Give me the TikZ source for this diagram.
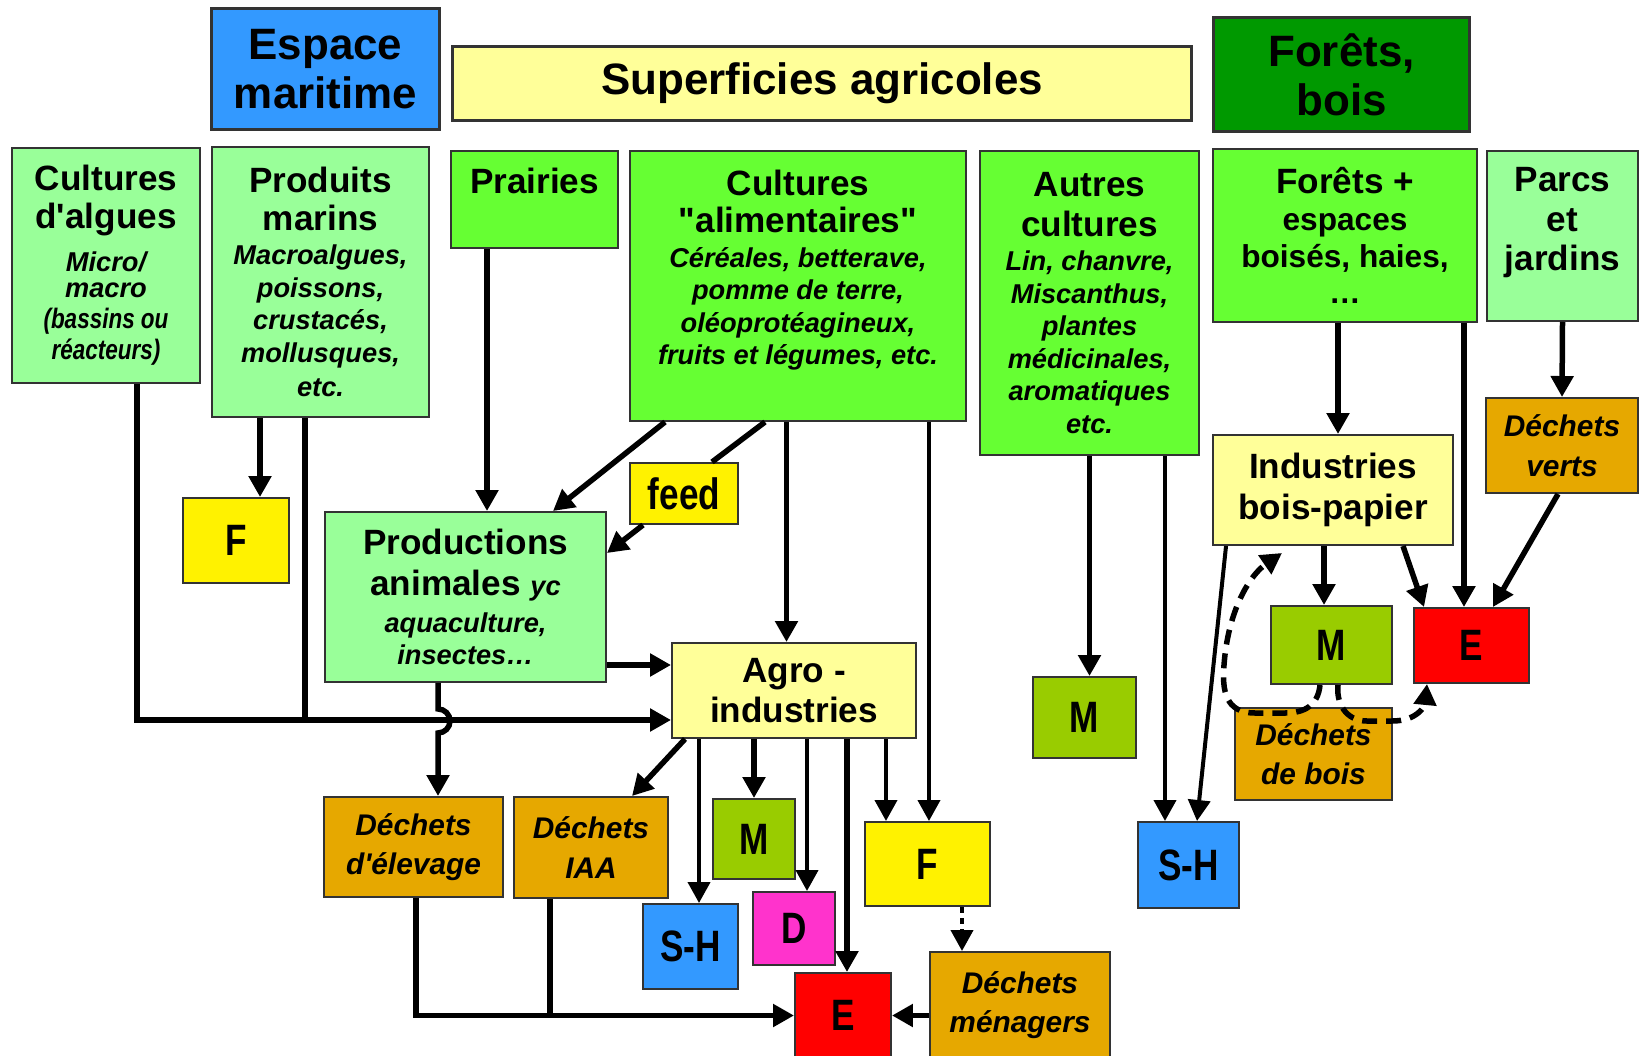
\documentclass[tikz,border=0pt]{standalone}
\usepackage{fontspec}
\setmainfont{Liberation Sans}[Ligatures=TeXOff]
\newfontfamily\narrowsans{Liberation Sans}[FakeStretch=0.8]
\usetikzlibrary{arrows.meta}

\definecolor{seablue}{RGB}{51,153,255}
\definecolor{paleyellow}{RGB}{255,255,153}
\definecolor{forestgreen}{RGB}{0,153,0}
\definecolor{palegreen}{RGB}{153,255,153}
\definecolor{grassgreen}{RGB}{102,255,51}
\definecolor{wastegold}{RGB}{230,168,0}
\definecolor{mgreen}{RGB}{153,204,0}
\definecolor{dpink}{RGB}{255,51,204}

\newcommand\subtxt[1]{{\itshape\fontsize{15.5}{18}\selectfont #1}}
\newcommand\midtxt[1]{{\fontsize{18}{21}\selectfont #1}}
\newcommand\narrowit[1]{{\narrowsans\bfseries\itshape\fontsize{16}{18}\selectfont #1}}

\tikzset{
  box/.style={draw=black!80, line width=0.04cm, inner sep=0pt, align=center},
  ttl/.style={box, line width=0.06cm, font=\bfseries\fontsize{25}{28}\selectfont},
  hd/.style={box, font=\bfseries\fontsize{20}{21.5}\selectfont},
  wst/.style={box, fill=wastegold, font=\bfseries\itshape\fontsize{17}{22.5}\selectfont},
  ltr/.style={box, font=\narrowsans\bfseries\fontsize{25}{27}\selectfont},
  ln/.style={line width=0.11cm},
  arr/.style={line width=0.11cm, -{Triangle[length=0.42cm,width=0.44cm]}},
  thinarr/.style={arr, line width=0.08cm},
  dotarr/.style={arr, line width=0.08cm, dash pattern=on 0.12cm off 0.1cm},
  dsharr/.style={arr, dash pattern=on 0.3cm off 0.18cm}
}

\begin{document}
\begin{tikzpicture}[x=0.02cm,y=-0.02cm]
\useasboundingbox (0,0) rectangle (1642,1055);

% espaces
\node[ttl, fill=seablue, minimum width=4.58cm, minimum height=2.44cm] (mar) at (325.5,69) {Espace\\maritime};
\node[ttl, fill=paleyellow, minimum width=14.8cm, minimum height=1.5cm] (sup) at (822,83.5) {Superficies agricoles};
\node[ttl, fill=forestgreen, minimum width=5.14cm, minimum height=2.3cm] (for) at (1341.5,74.5) {Forêts,\\bois};

% ressources
\node[hd, fill=palegreen, minimum width=3.76cm, minimum height=4.7cm] (alg) at (106,265.5)
  {Cultures\\d'algues\\[3pt]\subtxt{Micro/}\\[-7pt]\subtxt{macro}\\[-4pt]\narrowit{(bassins ou}\\[-3.5pt]\narrowit{réacteurs)}};
\node[hd, fill=palegreen, minimum width=4.34cm, minimum height=5.4cm] (pma) at (320.5,282)
  {Produits\\marins\\[-2pt]\subtxt{Macroalgues,}\\[-3pt]\subtxt{poissons,}\\[-3pt]\subtxt{crustacés,}\\[-3pt]\subtxt{mollusques,}\\[-2pt]\subtxt{etc.}};
\node[hd, fill=grassgreen, minimum width=3.34cm, minimum height=1.94cm] (pra) at (534.5,199.5) {Prairies\\\mbox{}};
\node[hd, fill=grassgreen, minimum width=6.72cm, minimum height=5.4cm] (cal) at (798,286)
  {Cultures\\"alimentaires"\\[-2pt]\subtxt{Céréales, betterave,}\\[-3pt]\subtxt{pomme de terre,}\\[-3pt]\subtxt{oléoprotéagineux,}\\[-3pt]\subtxt{fruits et légumes, etc.}\\\mbox{}};
\node[hd, fill=grassgreen, minimum width=4.38cm, minimum height=6.08cm] (aut) at (1089.5,303)
  {Autres\\[1pt]cultures\\[-2pt]\subtxt{Lin, chanvre,}\\[-3pt]\subtxt{Miscanthus,}\\[-3pt]\subtxt{plantes}\\[-3pt]\subtxt{médicinales,}\\[-3pt]\subtxt{aromatiques}\\[-3pt]\subtxt{etc.}};
\node[hd, fill=grassgreen, minimum width=5.28cm, minimum height=3.46cm] (fpl) at (1345,235.5)
  {Forêts +\\[-0.5pt]\midtxt{espaces}\\[-0.5pt]\midtxt{boisés, haies,}\\[-0.5pt]\midtxt{…}};
\node[hd, fill=palegreen, minimum width=3.02cm, minimum height=3.4cm] (par) at (1562.5,236) {Parcs\\[1pt]et\\[1pt]jardins\\[-2.5pt]\mbox{}};

% transformation
\node[ltr, fill=yellow, minimum width=2.12cm, minimum height=1.7cm] (fm) at (236,540.5) {F};
\node[hd, fill=palegreen, minimum width=5.62cm, minimum height=3.4cm] (ani) at (465.5,597)
  {Productions\\[1.5pt]animales \subtxt{yc}\\[-0.5pt]\subtxt{aquaculture,}\\[-3pt]\subtxt{insectes…}};
\node[ltr, fill=yellow, minimum width=2.16cm, minimum height=1.22cm] (feed) at (684,493.5) {feed};
\node[hd, fill=paleyellow, minimum width=4.88cm, minimum height=1.9cm] (agro) at (794,690.5) {Agro -\\[1.5pt]industries};
\node[hd, fill=paleyellow, minimum width=4.8cm, minimum height=2.2cm] (ibp) at (1333,490) {Industries\\[2pt]bois-papier};

% usages et dechets
\node[wst, minimum width=3.58cm, minimum height=2cm] (del) at (413.5,847) {Déchets\\d'élevage};
\node[wst, minimum width=3.08cm, minimum height=2.02cm] (dia) at (591,847.5) {Déchets\\IAA};
\node[ltr, fill=mgreen, minimum width=1.64cm, minimum height=1.6cm] (ma) at (754,839) {M};
\node[ltr, fill=seablue, minimum width=1.9cm, minimum height=1.7cm] (sha) at (690.5,946.5) {S-H};
\node[ltr, fill=dpink, minimum width=1.64cm, minimum height=1.46cm] (da) at (794,928.5) {D};
\node[ltr, fill=yellow, minimum width=2.5cm, minimum height=1.68cm] (fa) at (927.5,864) {F};
\node[ltr, fill=red, minimum width=1.92cm, minimum height=1.7cm] (ea) at (843,1015.5) {E};
\node[wst, minimum width=3.6cm, minimum height=2.12cm] (dme) at (1020,1005) {Déchets\\ménagers};
\node[ltr, fill=mgreen, minimum width=2.06cm, minimum height=1.62cm] (mac) at (1084.5,717.5) {M};
\node[ltr, fill=seablue, minimum width=2.02cm, minimum height=1.72cm] (shb) at (1188.5,865) {S-H};
\node[ltr, fill=mgreen, minimum width=2.42cm, minimum height=1.56cm] (mb) at (1331.5,645) {M};
\node[ltr, fill=red, minimum width=2.3cm, minimum height=1.5cm] (eb) at (1471.5,645.5) {E};
\node[wst, minimum width=3.14cm, minimum height=1.84cm] (dbo) at (1313.5,754) {Déchets\\de bois};
\node[wst, minimum width=3.04cm, minimum height=1.9cm] (dve) at (1562,445.5) {Déchets\\verts};

% mer
\coordinate (agin) at ([yshift=-0.59cm]agro.west);
\draw[arr] ([xshift=0.62cm]alg.south) |- (agin);
\draw[ln] ([xshift=-0.31cm]pma.south) -- ([xshift=-0.31cm]pma.south |- agin);
\draw[arr] ([xshift=-1.21cm]pma.south) -- ([xshift=-1.21cm]pma.south |- fm.north);

% agriculture
\draw[arr] ([xshift=-0.95cm]pra.south) -- ([xshift=-0.95cm]pra.south |- ani.north);
\draw[arr] ([xshift=-2.66cm]cal.south) -- ([xshift=1.75cm]ani.north);
\draw[ln] ([xshift=-0.66cm]cal.south) -- ([xshift=0.56cm]feed.north);
\draw[arr] ([xshift=-0.82cm]feed.south) -- ([yshift=0.88cm]ani.east);
\draw[arr] ([xshift=-0.23cm]cal.south) -- ([xshift=-0.23cm]cal.south |- agro.north);
\draw[thinarr] ([xshift=2.62cm]cal.south) -- ([xshift=2.62cm]cal.south |- fa.north);
\draw[arr] ([yshift=-1.36cm]ani.east) -- ([yshift=-1.36cm]ani.east -| agro.west);
\draw[arr] ([xshift=-0.55cm]ani.south) -- ++(0,-0.52cm) arc[start angle=90, end angle=-90, radius=0.24cm]
  -- ([xshift=-0.55cm]ani.south |- del.north);

\draw[arr] ([xshift=-2.18cm]agro.south) -- ([xshift=0.82cm]dia.north);
\draw[thinarr] ([xshift=-1.9cm]agro.south) -- ([xshift=-1.9cm]agro.south |- sha.north);
\draw[arr] (agro.south -| ma.north) -- (ma.north);
\draw[thinarr] ([xshift=0.26cm]agro.south) -- ([xshift=0.26cm]agro.south |- da.north);
\draw[arr] ([xshift=1.06cm]agro.south) -- ([xshift=1.06cm]agro.south |- ea.north);
\draw[thinarr] ([xshift=1.84cm]agro.south) -- ([xshift=1.84cm]agro.south |- fa.north);

\draw[arr] ([xshift=0.05cm]del.south) |- (ea.west);
\draw[ln] ([xshift=-0.82cm]dia.south) -- ([xshift=-0.82cm]dia.south |- ea.west);
\draw[arr] (dme.west |- ea.east) -- (ea.east);
\draw[dotarr] ([xshift=0.69cm]fa.south) -- ([xshift=0.69cm]fa.south |- dme.north);

\draw[arr] (aut.south) -- (aut.south |- mac.north);
\draw[thinarr] ([xshift=1.51cm]aut.south) -- ([xshift=1.51cm]aut.south |- shb.north);

% foret
\draw[arr] ([xshift=-0.14cm]fpl.south) -- ([xshift=-0.14cm]fpl.south |- ibp.north);
\draw[arr] ([xshift=2.38cm]fpl.south) -- ([xshift=2.38cm]fpl.south |- eb.north);
\draw[arr] (par.south) -- (dve.north);
\draw[arr] ([xshift=-0.08cm]dve.south) -- ([xshift=0.43cm]eb.north);
\draw[thinarr] ([xshift=-2.14cm]ibp.south) -- ([xshift=0.17cm]shb.north);
\draw[arr] ([xshift=-0.18cm]ibp.south) -- ([xshift=-0.18cm]ibp.south |- mb.north);
\draw[arr] ([xshift=1.4cm]ibp.south) -- ([xshift=-0.95cm]eb.north);

\draw[dsharr] ([xshift=-0.23cm]mb.south) .. controls (1318,705) and (1305,713) .. (1285,713) -- (1255,713)
  .. controls (1225,713) and (1222,690) .. (1224,665) .. controls (1228,610) and (1250,575) .. ([xshift=-1.02cm,yshift=-0.14cm]ibp.south);
\draw[dsharr] ([xshift=0.13cm]mb.south) .. controls (1336,702) and (1345,721) .. (1367,721) -- (1392,721)
  .. controls (1418,721) and (1425,705) .. ([xshift=-0.89cm]eb.south);

\end{tikzpicture}
\end{document}
